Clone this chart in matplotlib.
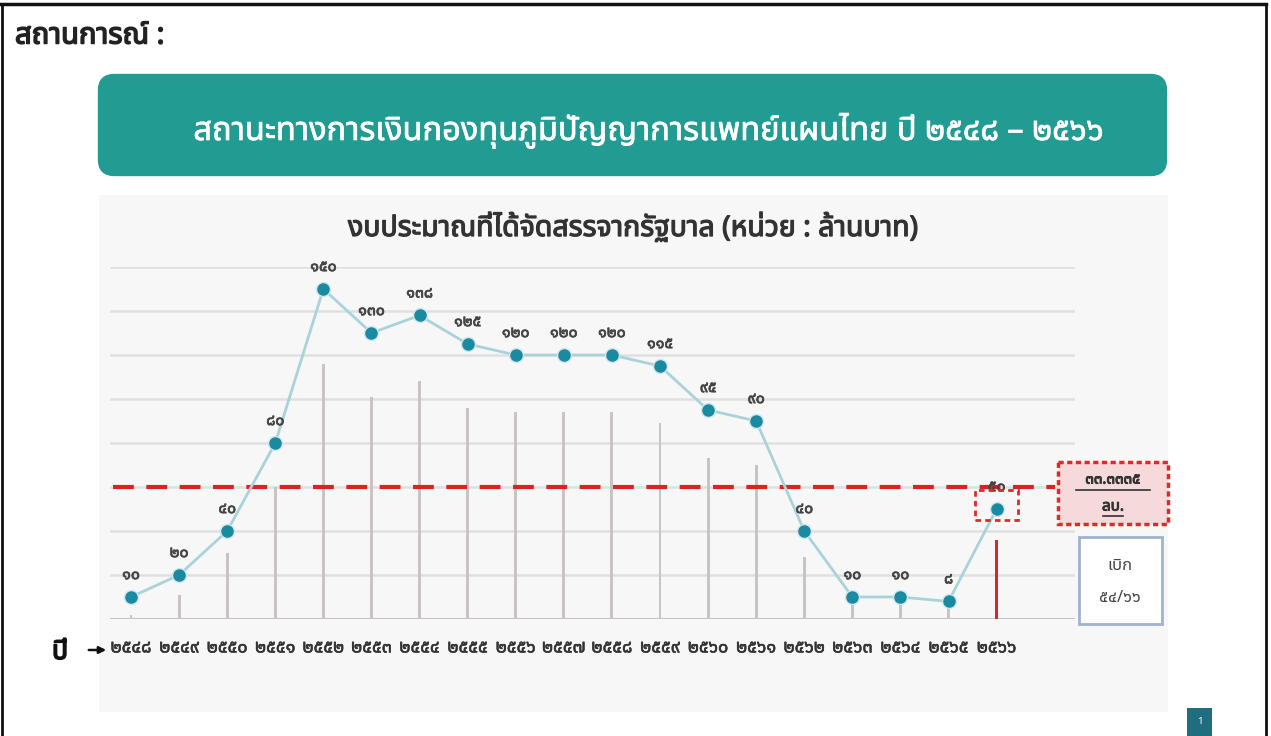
import matplotlib
matplotlib.use("Agg")
import matplotlib.pyplot as plt
import matplotlib.patheffects as pe
from matplotlib import font_manager as fm
from matplotlib.patches import FancyBboxPatch, Rectangle

# ---------------- data ----------------
years = ['๒๕๔๘', '๒๕๔๙', '๒๕๕๐', '๒๕๕๑', '๒๕๕๒', '๒๕๕๓', '๒๕๕๔', '๒๕๕๕',
         '๒๕๕๖', '๒๕๕๗', '๒๕๕๘', '๒๕๕๙', '๒๕๖๐', '๒๕๖๑', '๒๕๖๒', '๒๕๖๓',
         '๒๕๖๔', '๒๕๖๕', '๒๕๖๖']
budget = [10, 20, 40, 80, 150, 130, 138, 125, 120, 120, 120, 115, 95, 90, 40, 10, 10, 8, 50]
budget_labels = ['๑๐', '๒๐', '๔๐', '๘๐', '๑๕๐', '๑๓๐', '๑๓๘', '๑๒๕', '๑๒๐', '๑๒๐',
                 '๑๒๐', '๑๑๕', '๙๕', '๙๐', '๔๐', '๑๐', '๑๐', '๘', '๕๐']
spent = [2, 11, 30, 60, 116, 101, 108, 96, 94, 94, 94, 89, 73, 70, 28, 7, 7, 6, 36]
target = 60
y_ticks = [0, 20, 40, 60, 80, 100, 120, 140, 160]

header = 'สถานการณ์ :'
slide_title = 'สถานะทางการเงินกองทุนภูมิปัญญาการแพทย์แผนไทย ปี ๒๕๔๘ – ๒๕๖๖'
chart_title = 'งบประมาณที่ได้จัดสรรจากรัฐบาล (หน่วย : ล้านบาท)'
year_word = 'ปี'
note_red = ['๓๓.๓๓๓๕', 'ลบ.']
note_blue = ['เบิก', '๕๔/๖๖']
page_no = '1'

# ---------------- fonts ----------------
names = {f.name for f in fm.fontManager.ttflist}
def pick(*cands):
    for c in cands:
        if c in names:
            return c
    return 'DejaVu Sans'
THAI = pick('Noto Sans Thai', 'Noto Sans Thai UI', 'Sarabun', 'Loma', 'Garuda')
plt.rcParams['font.family'] = [THAI, 'DejaVu Sans']

def bold(color, w=0.9):
    return [pe.withStroke(linewidth=w, foreground=color)]

W, H = 1271, 736
fig = plt.figure(figsize=(W / 100, H / 100), dpi=100)
fig.patch.set_facecolor('white')

# background pixel-space axes
bg = fig.add_axes([0, 0, 1, 1], zorder=0)
bg.set_xlim(0, W); bg.set_ylim(H, 0); bg.axis('off')

# frame
bg.plot([1, W - 5], [4, 4], color='#111111', lw=2.5)
bg.plot([2, 2], [4, H], color='#111111', lw=2)
bg.plot([W - 5, W - 5], [4, H], color='#111111', lw=2)

bg.text(15, 36, header, fontsize=21, color='#222222',
        va='center', ha='left', path_effects=bold('#222222', 1.1))

# teal title banner
bg.add_patch(FancyBboxPatch((102, 78), 1061, 94,
                            boxstyle='round,pad=0,rounding_size=12',
                            fc='#229b92', ec='#229b92', lw=6))
bg.text(648, 131, slide_title, fontsize=23.5, color='white', va='center', ha='center',
        path_effects=bold('white', 0.5))

# chart panel
bg.add_patch(Rectangle((99, 195), 1069, 517, fc='#f7f7f7', ec='none'))
bg.text(633, 228, chart_title, fontsize=20.5, color='#333333',
        va='center', ha='center', path_effects=bold('#333333', 0.9))

# ---------------- chart ----------------
x = list(range(len(years)))
ax = fig.add_axes([110 / W, 1 - 619 / H, 965 / W, (619 - 267) / H], zorder=1)
ax.set_facecolor('none')
ax.set_xlim(-0.437, 19.63)
ax.set_ylim(0, 160)
for s in ax.spines.values():
    s.set_visible(False)
ax.set_yticks(y_ticks)
ax.yaxis.grid(True, color='#e0e0e0', lw=1.8)
ax.set_axisbelow(True)
ax.tick_params(axis='y', length=0, labelleft=False)
ax.axhline(0, color='#c8c4c4', lw=2.2, zorder=1)

bar_colors = ['#cbc3c1'] * (len(x) - 1) + ['#d8262c']
ax.bar(x, spent, width=0.06, color=bar_colors, zorder=2)

ax.axhline(target, xmin=0.003, xmax=0.979, color='#dd2222', lw=3,
           dashes=(5, 3), zorder=3)

ax.plot(x, budget, color='#a9d2da', lw=2, zorder=4)
ax.plot(x, budget, 'o', color='#1a8aa0', ms=10, mec='#cfe6ea', mew=1.0, zorder=5)
for xi, yi, lab in zip(x, budget, budget_labels):
    ax.annotate(lab, (xi, yi), xytext=(0, 10), textcoords='offset points',
                ha='center', va='bottom', fontsize=11.5, color='#444444', zorder=6,
                path_effects=bold('#444444', 0.5))

# dashed highlight box around last point
ax.add_patch(Rectangle((x[-1] - 0.44, 45), 0.88, 13.6, fill=False, ec='#dd2a2a',
                       lw=2, ls=(0, (2, 1.5)), zorder=7))

ax.set_xticks(x)
ax.set_xticklabels(years, fontsize=13, color='#333333')
for t in ax.get_xticklabels():
    t.set_path_effects(bold('#333333', 0.4))
ax.tick_params(axis='x', length=0, pad=14)

# ---------------- overlay ----------------
ov = fig.add_axes([0, 0, 1, 1], zorder=3)
ov.set_xlim(0, W); ov.set_ylim(H, 0); ov.axis('off')
ov.set_facecolor('none')

ov.text(60, 652, year_word, fontsize=19, color='#111111',
        va='center', ha='center', path_effects=bold('#111111', 1.2))
ov.annotate('', xy=(109, 650), xytext=(86, 650),
            arrowprops=dict(arrowstyle='-|>', color='#111111', lw=1.8,
                            mutation_scale=10))

# red note box
ov.add_patch(Rectangle((1058, 462), 110, 62, fc='#f6d9da', ec='#dd2a2a',
                       lw=2.5, ls=(0, (1.5, 1))))
ov.text(1113, 480, note_red[0], fontsize=11, color='#333333', ha='center',
        va='center', path_effects=bold('#333333', 0.7))
ov.plot([1076, 1150], [490, 490], color='#333333', lw=1.2)
ov.text(1113, 507, note_red[1], fontsize=11, color='#333333', ha='center',
        va='center', path_effects=bold('#333333', 0.7))
ov.plot([1103, 1123], [516, 516], color='#333333', lw=1.2)

# blue note box
ov.add_patch(Rectangle((1079, 537), 83, 87, fc='white', ec='#9fb3cf', lw=2))
ov.text(1120, 566, note_blue[0], fontsize=12, color='#444444', ha='center', va='center')
ov.text(1120, 598, note_blue[1], fontsize=12, color='#444444', ha='center', va='center')

# page number
ov.add_patch(Rectangle((1187, 708), 25, 28, fc='#1f6d7e', ec='none'))
ov.text(1199.5, 722, page_no, fontsize=7, color='white', ha='center', va='center')

fig.savefig('out.png', dpi=100)
